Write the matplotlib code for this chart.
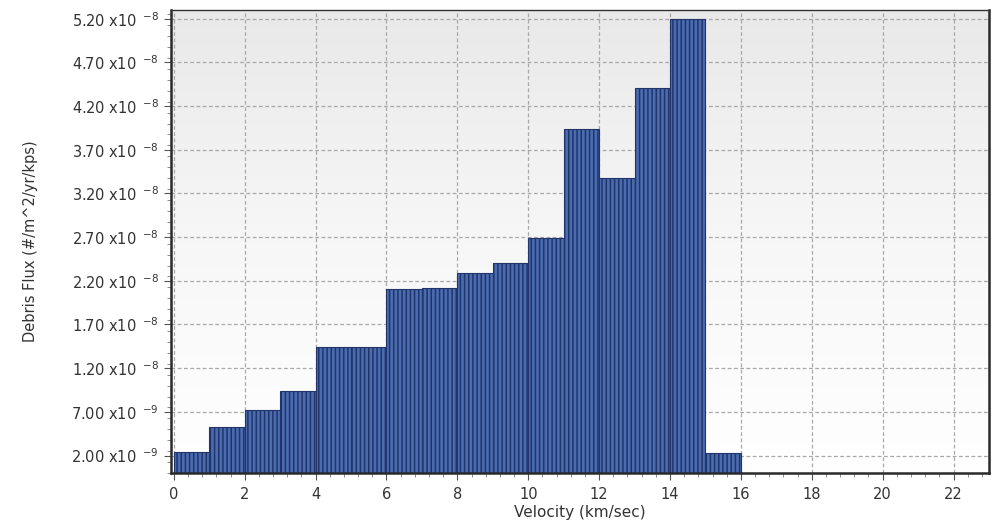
import numpy as np
import matplotlib
matplotlib.use("Agg")
import matplotlib.pyplot as plt
from matplotlib.ticker import FixedLocator, MultipleLocator, FuncFormatter

# Debris flux per 1 km/s velocity bin
bin_left = [0, 1, 2, 3, 4, 5, 6, 7, 8, 9, 10, 11, 12, 13, 14, 15]
flux = [2.35e-9, 5.3e-9, 7.2e-9, 9.4e-9, 1.44e-8, 1.44e-8, 2.11e-8, 2.12e-8,
        2.295e-8, 2.40e-8, 2.69e-8, 3.94e-8, 3.38e-8, 4.41e-8, 5.20e-8, 2.30e-9]

y_ticks = [2.0e-9, 7.0e-9, 1.2e-8, 1.7e-8, 2.2e-8, 2.7e-8, 3.2e-8, 3.7e-8, 4.2e-8, 4.7e-8, 5.2e-8]
x_ticks = [0, 2, 4, 6, 8, 10, 12, 14, 16, 18, 20, 22]

plt.rcParams['font.family'] = ['DejaVu Sans']
plt.rcParams['hatch.linewidth'] = 1.1
plt.rcParams['hatch.color'] = '#2d4888'

fig = plt.figure(figsize=(9.92, 5.23), dpi=100)
ax = fig.add_axes([171 / 992, 1 - 473 / 523, (989 - 171) / 992, (473 - 10) / 523])

xmin, xmax = -0.08, 23.0
ymin, ymax = 0.0, 5.3e-8
ax.set_xlim(xmin, xmax)
ax.set_ylim(ymin, ymax)

# light-grey-to-white vertical gradient background
grad = np.linspace(0, 1, 256).reshape(-1, 1)
ax.imshow(grad, extent=[xmin, xmax, ymin, ymax], aspect='auto', origin='lower',
          cmap=matplotlib.colors.LinearSegmentedColormap.from_list(
              'bg', ['#ffffff', '#f7f7f7', '#e9e9e9']),
          zorder=0, interpolation='bilinear')

ax.grid(True, which='major', color='#a8a8a8', linestyle=(0, (3, 2)), linewidth=0.9, zorder=1)

bars = ax.bar(bin_left, flux, width=1.0, align='edge', color='#4a6cb0',
              edgecolor='#22356b', linewidth=0.8, hatch='||||', zorder=2)
for p in bars:
    if hasattr(p, 'set_hatchcolor'):
        p.set_hatchcolor('#2d4888')

ax.yaxis.set_major_locator(FixedLocator(y_ticks))
ax.yaxis.set_minor_locator(MultipleLocator(1.25e-9))
ax.xaxis.set_major_locator(FixedLocator(x_ticks))
ax.xaxis.set_minor_locator(MultipleLocator(0.4))


def sci_fmt(v, pos):
    exp = int(np.floor(np.log10(v)))
    mant = v / 10 ** exp
    return '%.2f x10$^{\\ \\ \\mathrm{-}%d}$' % (mant, -exp)


ax.yaxis.set_major_formatter(FuncFormatter(sci_fmt))

ax.tick_params(axis='both', which='major', direction='out', length=5, width=0.8,
               color='#555555', labelcolor='#333333', labelsize=10.5)
ax.tick_params(axis='both', which='minor', direction='out', length=3, width=0.6,
               color='#777777')
ax.tick_params(axis='y', pad=4)
ax.tick_params(axis='x', pad=5)

for side in ['left', 'bottom', 'right']:
    ax.spines[side].set_color('#2a2a2a')
    ax.spines[side].set_linewidth(1.8)
ax.spines['top'].set_color('#333333')
ax.spines['top'].set_linewidth(1.0)

ax.set_xlabel('Velocity (km/sec)', fontsize=11, color='#333333', labelpad=2)
ax.set_ylabel('Debris Flux (#/m^2/yr/kps)', fontsize=10.5, color='#333333', labelpad=24)

fig.savefig('out.png', dpi=100)
